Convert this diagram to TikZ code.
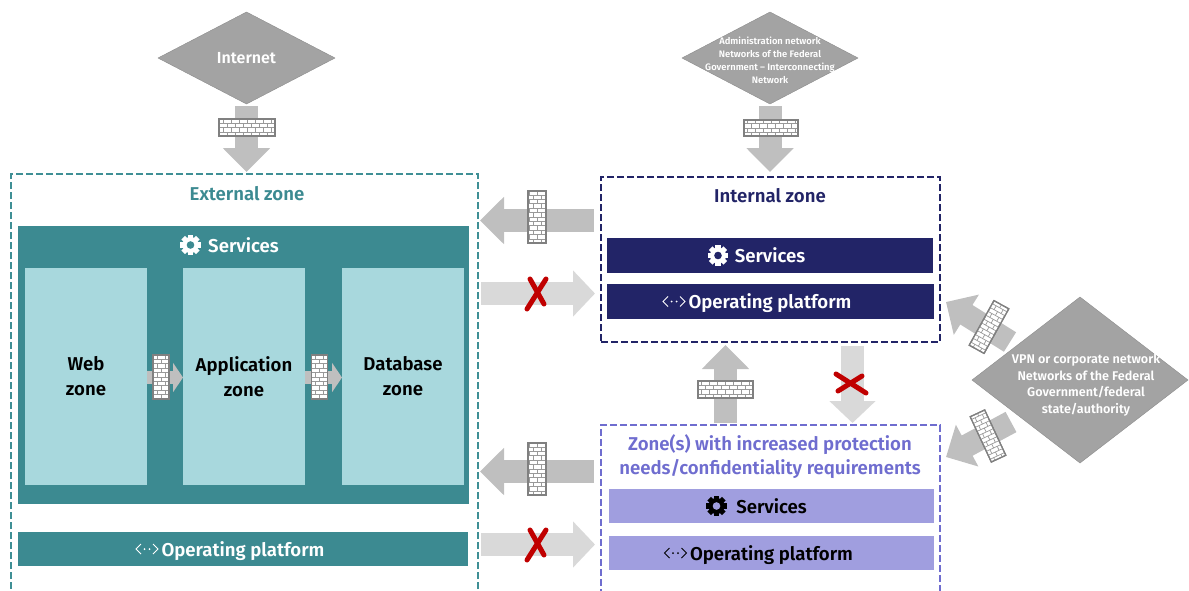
\documentclass[tikz,border=0pt]{standalone}
\usepackage{fontspec}
\setmainfont{Fira Sans}[BoldFont={Fira Sans SemiBold}]
\usepackage{tikz}
\usetikzlibrary{calc}
\usetikzlibrary{shapes}
\usetikzlibrary{arrows.meta}
\definecolor{extteal}{HTML}{3C8A91}
\definecolor{exttealdash}{HTML}{3F8F95}
\definecolor{webblue}{HTML}{A8D8DD}
\definecolor{intnavy}{HTML}{222467}
\definecolor{protlav}{HTML}{A09EDF}
\definecolor{protdash}{HTML}{6F6DCF}
\definecolor{netgray}{HTML}{A3A3A3}
\definecolor{fatgray}{HTML}{BFBFBF}
\definecolor{fatlight}{HTML}{D9D9D9}
\definecolor{crossred}{HTML}{C00000}
\tikzset{
	netdiamond/.style={diamond, draw=black!45, fill=netgray, inner sep=0pt, outer sep=0pt, aspect=1.9},
	nettext/.style={text=white, font=\bfseries, align=center, inner sep=0pt},
	zonebox/.style={rectangle, line width=2pt, dash pattern=on 7pt off 3pt, inner sep=0pt, outer sep=0pt},
	card/.style={rectangle, fill=webblue, text=black, align=center, inner sep=0pt, outer sep=0pt, minimum width=122pt, minimum height=217pt, font=\fontsize{18.6}{25}\selectfont\bfseries},
	band/.style={rectangle, inner sep=0pt, outer sep=0pt, text=white, text height=14pt, text depth=0pt, font=\fontsize{18.6}{20}\selectfont\bfseries},
	zonetitle/.style={inner sep=0pt, align=center, font=\fontsize{18.6}{24.5}\selectfont\bfseries},
	firearrow/.style={draw=fatgray, line width=23pt, -{Triangle[length=24pt,width=46pt]}},
	lockarrow/.style={draw=fatlight, line width=23pt, -{Triangle[length=22pt,width=45pt]}},
	smallarrow/.style={draw=fatgray, line width=13pt, -{Triangle[length=10pt,width=29pt]}},
	wallbox/.style={rectangle, draw=black!50, line width=1.2pt, fill=white, inner sep=0pt, outer sep=0pt},
	crossline/.style={draw=crossred, line width=5pt, line cap=round},
}
%firewall: name, centre, width, height, angle
\newcommand{\firewall}[5]{
	\node at (#2) (#1) [wallbox, rotate=#5, minimum width=#3pt, minimum height=#4pt] {};
	\begin{scope}[shift={(#2)}, rotate=#5]
		\clip (-#3/2,-#4/2) rectangle (#3/2,#4/2);
		\foreach \row in {-6,...,6} {
			\draw [black!40, line width=0.7pt] (-#3/2,\row*4.4) -- (#3/2,\row*4.4);
			\foreach \col in {-4,...,4} {
				\draw [black!40, line width=0.7pt] ({\col*8+mod(\row+6,2)*4},\row*4.4) -- ++(0,4.4);
			}
		}
	\end{scope}
	\node at (#2) [wallbox, fill=none, rotate=#5, minimum width=#3pt, minimum height=#4pt] {};
}
%gear icon: centre, colour, hole colour
\newcommand{\gearicon}[3]{
	\begin{scope}[shift={(#1)}]
		\foreach \ang in {0,45,90,135} {
			\fill [#2, rotate=\ang] (-2.6,-10.3) rectangle (2.6,10.3);
		}
		\fill [#2] (0,0) circle (8pt);
		\fill [#3] (0,0) circle (3.8pt);
	\end{scope}
}
%platform icon: centre, colour
\newcommand{\opicon}[2]{
	\begin{scope}[shift={(#1)}]
		\draw [#2, line width=0.9pt] (-6,-5) -- (-11,0) -- (-6,5);
		\draw [#2, line width=0.9pt] (6,-5) -- (11,0) -- (6,5);
		\fill [#2] (-2.5,0) circle (1pt);
		\fill [#2] (2.5,0) circle (1pt);
	\end{scope}
}
\begin{document}
\begin{tikzpicture}[x=1pt,y=-1pt]
	\useasboundingbox (0,0) rectangle (1189,590);
	%networks
	\node at (246.5,58) (internet) [netdiamond, minimum width=177pt, minimum height=92pt] {};
	\node at (internet.center) (internettext) [nettext, font=\fontsize{16}{18}\selectfont\bfseries] {Internet};
	\node at (770,58) (admin) [netdiamond, minimum width=176pt, minimum height=92pt] {};
	\node at (770,60.5) (admintext) [nettext, font=\fontsize{9.4}{13}\selectfont\bfseries] {Administration network\\Networks of the Federal\\Government -- Interconnecting\\Network};
	\node at (1080,380) (vpn) [netdiamond, minimum width=216pt, minimum height=166pt, aspect=1.3] {};
	\node at (1086,385) (vpntext) [nettext, font=\fontsize{12.6}{16.7}\selectfont\bfseries] {VPN or corporate network\\Networks of the Federal\\Government/federal\\state/authority};

	%zones
	\node at (244.5,383) (extzone) [zonebox, line width=1.6pt, draw=exttealdash, minimum width=467pt, minimum height=418pt] {};
	\node at (247,194) (exttitle) [zonetitle, text=extteal] {External zone};
	\node at (770.5,259.5) (intzone) [zonebox, draw=intnavy, minimum width=339pt, minimum height=165pt] {};
	\node at (770,196) (inttitle) [zonetitle, text=intnavy] {Internal zone};
	\node at (770.5,509) (protzone) [zonebox, draw=protdash, minimum width=339pt, minimum height=168pt] {};
	\node at (770,456.5) (prottitle) [zonetitle, text=protdash] {Zone(s) with increased protection\\needs/confidentiality requirements};

	%external services
	\node at (243.5,365) (extservices) [rectangle, fill=extteal, inner sep=0pt, minimum width=451pt, minimum height=278pt] {};
	\node at (243.5,245) (extservicestext) [band] {Services};
	\gearicon{$(extservicestext.center)+(-53,0)$}{white}{extteal}
	\node at (86,376.5) (webzone) [card] {Web\\zone};
	\node at (244,376.5) (appzone) [card] {Application\\zone};
	\node at (403,376.5) (dbzone) [card] {Database\\zone};
	\node at (243,549) (extplatform) [band, fill=extteal, minimum width=450pt, minimum height=34pt] {Operating platform};
	\opicon{$(extplatform.center)+(-96,0)$}{white}

	%internal bands
	\node at (770,255.5) (intservices) [band, fill=intnavy, minimum width=326pt, minimum height=35pt] {Services};
	\gearicon{$(intservices.center)+(-52,0)$}{white}{intnavy}
	\node at (770,301.5) (intplatform) [band, fill=intnavy, minimum width=327pt, minimum height=35pt] {Operating platform};
	\opicon{$(intplatform.center)+(-96,0)$}{white}

	%protected bands
	\node at (771.5,506) (protservices) [band, fill=protlav, text=black, minimum width=325pt, minimum height=34pt] {Services};
	\gearicon{$(protservices.center)+(-55,0)$}{black}{protlav}
	\node at (771.5,553) (protplatform) [band, fill=protlav, text=black, minimum width=325pt, minimum height=34pt] {Operating platform};
	\opicon{$(protplatform.center)+(-96,0)$}{black}

	%arrow rows
	\coordinate (introw) at (0,220.5);
	\coordinate (lockrow) at (0,293.5);
	\coordinate (protrow) at (0,471.5);
	\coordinate (lockrowb) at (0,544.5);
	\coordinate (smallrow) at (0,377.5);
	\coordinate (upcol) at (725.5,0);
	\coordinate (downcol) at (852.5,0);
	\coordinate (vpnupper) at (1010,342);
	\coordinate (intcorner) at (946,302);
	\coordinate (vpnlower) at (1011,422);
	\coordinate (protcorner) at (946,457);

	%arrows
	\draw [firearrow, shorten <=2pt, shorten >=2pt] (internet.south) -- (internet.south |- extzone.north);
	\draw [firearrow, shorten <=2pt, shorten >=5pt] (admin.south) -- (admin.south |- intzone.north);
	\draw [firearrow, shorten <=7pt, shorten >=2pt] (intzone.west |- introw) -- (extzone.east |- introw);
	\draw [lockarrow, shorten <=3pt, shorten >=6pt] (extzone.east |- lockrow) -- (intzone.west |- lockrow);
	\draw [firearrow, shorten <=7pt, shorten >=2pt] (protzone.west |- protrow) -- (extzone.east |- protrow);
	\draw [lockarrow, shorten <=3pt, shorten >=6pt] (extzone.east |- lockrowb) -- (protzone.west |- lockrowb);
	\draw [firearrow, shorten <=2pt, shorten >=3pt] (protzone.north -| upcol) -- (intzone.south -| upcol);
	\draw [lockarrow, shorten <=4pt, shorten >=2pt] (intzone.south -| downcol) -- (protzone.north -| downcol);
	\draw [firearrow] (vpnupper) -- (intcorner);
	\draw [firearrow] (vpnlower) -- (protcorner);
	\draw [smallarrow] (webzone.east |- smallrow) -- (appzone.west |- smallrow);
	\draw [smallarrow] (appzone.east |- smallrow) -- (dbzone.west |- smallrow);

	%firewalls
	\firewall{wallinternet}{247,127.5}{56}{17}{0}
	\firewall{walladmin}{771,128}{54}{16}{0}
	\firewall{wallint}{537,217}{18}{52}{0}
	\firewall{wallprot}{537,469}{18}{52}{0}
	\firewall{wallup}{725.5,389.5}{55}{17}{0}
	\firewall{wallweb}{161,377}{16}{44}{0}
	\firewall{wallapp}{319.5,377}{16}{44}{0}
	\firewall{wallvpnup}{989,327}{17}{51}{-29}
	\firewall{wallvpnlow}{988,436}{16}{50}{25}

	%blocked
	\draw [crossline] (546,279) -- (527,309);
	\draw [crossline] (530,279) -- (544,304);
	\draw [crossline] (546,530) -- (527,560);
	\draw [crossline] (530,530) -- (544,555);
	\draw [crossline] (836,374) -- (866,393);
	\draw [crossline] (838,391) -- (862,376);
\end{tikzpicture}
\end{document}
